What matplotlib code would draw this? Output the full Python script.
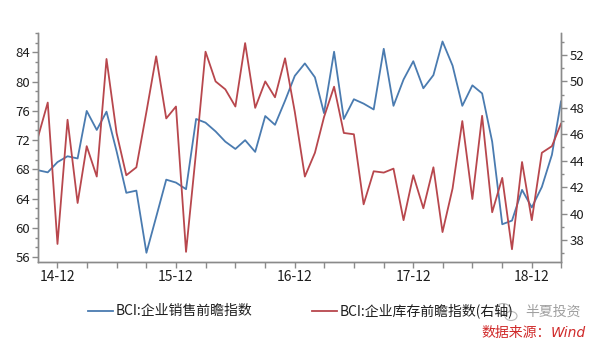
import pandas as pd
import matplotlib
matplotlib.use("Agg")
import matplotlib.pyplot as plt
import matplotlib.dates as mdates
import matplotlib.ticker as mticker
from matplotlib.patches import Ellipse

plt.rcParams["font.family"] = ["Noto Sans CJK SC", "DejaVu Sans"]

# ── Data (monthly, 2014-10 .. 2019-03) ─────────────────────────
months = pd.date_range("2014-10-01", periods=54, freq="MS")

sales_idx = [
    67.9, 67.6, 69.0, 69.8, 69.5, 76.0, 73.4, 75.9, 70.5, 64.8, 65.1, 56.6,
    61.5, 66.6, 66.2, 65.3, 74.9, 74.4, 73.2, 71.8, 70.8, 72.0, 70.4, 75.3,
    74.1, 77.4, 80.8, 82.5, 80.6, 75.7, 84.1, 74.9, 77.6, 77.0, 76.2, 84.5,
    76.7, 80.3, 82.8, 79.1, 80.9, 85.5, 82.2, 76.7, 79.5, 78.4, 71.8, 60.5,
    61.0, 65.2, 62.8, 65.6, 70.0, 77.3,
]
inventory_idx = [
    45.7, 48.4, 37.7, 47.1, 40.8, 45.1, 42.8, 51.7, 46.1, 42.9, 43.5, 47.7,
    51.9, 47.2, 48.1, 37.1, 44.7, 52.25, 50.0, 49.4, 48.1, 52.9, 48.0, 50.0,
    48.8, 51.75, 47.7, 42.8, 44.6, 47.3, 49.6, 46.1, 46.0, 40.7, 43.2, 43.1,
    43.4, 39.5, 42.9, 40.4, 43.5, 38.6, 41.9, 47.0, 41.1, 47.4, 40.1, 42.7,
    37.3, 43.9, 39.5, 44.6, 45.1, 46.8,
]

label_sales = "BCI:企业销售前瞻指数"
label_inv = "BCI:企业库存前瞻指数(右轴)"

BLUE = "#4a7bb0"
RED = "#b8474d"
SPINE = "#8a8a8a"
TXT = "#1e1e1e"

# ── Figure ─────────────────────────────────────────────────────
fig = plt.figure(figsize=(6.0, 3.43), dpi=100)
ax = fig.add_axes([0.0628, 0.236, 0.8722, 0.668])
ax2 = ax.twinx()

l1, = ax.plot(months, sales_idx, color=BLUE, lw=1.3, label=label_sales)
l2, = ax2.plot(months, inventory_idx, color=RED, lw=1.3, label=label_inv)

ax.set_xlim(months[0], months[-1])
ax.set_ylim(55.33, 86.67)
ax2.set_ylim(36.33, 53.67)

ax.yaxis.set_major_locator(mticker.MultipleLocator(4))
ax.yaxis.set_minor_locator(mticker.AutoMinorLocator(3))
ax2.yaxis.set_major_locator(mticker.MultipleLocator(2))
ax2.yaxis.set_minor_locator(mticker.AutoMinorLocator(2))

ax.xaxis.set_major_locator(mdates.MonthLocator(bymonth=(3, 6, 9, 12)))
ax.xaxis.set_major_formatter(mticker.FuncFormatter(
    lambda v, _: mdates.num2date(v).strftime("%y-%m")
    if mdates.num2date(v).month == 12 else ""))

for a in (ax, ax2):
    for s in a.spines.values():
        s.set_color(SPINE)
        s.set_linewidth(1.0)
    a.spines["top"].set_visible(False)
    a.tick_params(which="major", length=4, width=1.0, color=SPINE, labelcolor=TXT)
    a.tick_params(which="minor", length=2.5, width=1.0, color=SPINE)
ax.tick_params(axis="y", labelsize=9.5, pad=1.5)
ax.tick_params(axis="x", labelsize=10, pad=2)
ax2.tick_params(axis="y", labelsize=9.5, pad=2.5)

# ── Legend & notes ─────────────────────────────────────────────
fig.legend(handles=[l1, l2], loc="center left",
           bbox_to_anchor=(88 / 600, 1 - 311 / 343), ncol=2, frameon=False,
           fontsize=10, handlelength=1.8, handletextpad=0.2,
           columnspacing=4.3, borderpad=0, borderaxespad=0,
           labelcolor=TXT)

# watermark (wechat-like bubbles + name)
for (cx, cy, w, h) in [(503, 309, 14, 11), (511, 316, 12, 9)]:
    fig.add_artist(Ellipse((cx / 600, 1 - cy / 343), w / 600, h / 343,
                           transform=fig.transFigure, fill=True,
                           facecolor="white", edgecolor="#b0b0b0", lw=0.8,
                           alpha=0.9))
fig.text(525 / 600, 1 - 312 / 343, "半夏投资", color="#a0a0a0", fontsize=10,
         ha="left", va="center")

fig.text(551 / 600, 1 - 333 / 343, "数据来源：", color="#d02a2a",
         fontsize=10, ha="right", va="center")
fig.text(551 / 600, 1 - 333 / 343, "Wind", color="#d02a2a",
         fontsize=10, style="italic", family="DejaVu Sans",
         ha="left", va="center")

fig.savefig("out.png", dpi=100, facecolor="white")
